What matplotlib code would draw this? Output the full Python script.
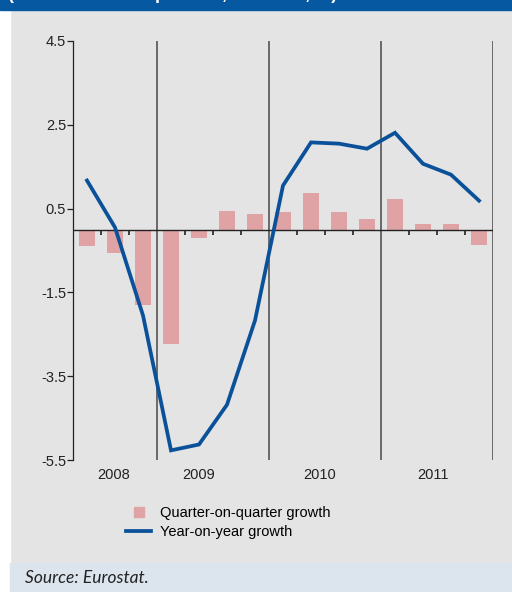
import matplotlib
matplotlib.use("Agg")
import matplotlib.pyplot as plt
import numpy as np
from matplotlib.patches import Rectangle
from matplotlib.lines import Line2D

plt.rcParams['font.family'] = ['Liberation Sans', 'DejaVu Sans']

# quarterly data, 2008Q2 .. 2011Q4
quarters = ['2008Q2', '2008Q3', '2008Q4',
            '2009Q1', '2009Q2', '2009Q3', '2009Q4',
            '2010Q1', '2010Q2', '2010Q3', '2010Q4',
            '2011Q1', '2011Q2', '2011Q3', '2011Q4']
qoq = [-0.40, -0.55, -1.79, -2.74, -0.21, 0.45, 0.36,
       0.41, 0.88, 0.41, 0.26, 0.74, 0.14, 0.14, -0.36]
yoy = [1.17, 0.05, -2.05, -5.27, -5.13, -4.18, -2.17,
       1.05, 2.08, 2.05, 1.93, 2.31, 1.57, 1.31, 0.69]

years = ['2008', '2009', '2010', '2011']
quarters_per_year = [3, 4, 4, 4]
year_label_pos = [0.95, 4.0, 8.3, 12.35]
y_ticks = [4.5, 2.5, 0.5, -1.5, -3.5, -5.5]

BAR_COL = '#e0a3a5'
LINE_COL = '#0a519a'
BG = '#e4e4e4'
FS = 10.5

W, H = 512, 592
fig = plt.figure(figsize=(W / 100, H / 100), dpi=100, facecolor=BG)

# frame decorations: white strip left, blue header band, source band
fig.patches.append(Rectangle((0, 0), 10 / W, 1, transform=fig.transFigure,
                             color='white', zorder=0))
fig.patches.append(Rectangle((0, 1 - 10 / H), 1, 10 / H, transform=fig.transFigure,
                             color='#0659a1', zorder=1))
fig.patches.append(Rectangle((10 / W, 0), 1, 29 / H, transform=fig.transFigure,
                             color='#dce4ee', zorder=1))
# header title sits above the cropped top edge, only its descenders show
fig.text(8 / W, 1 + 1 / H, '(Gross domestic product, volumes, %)', color='white',
         fontsize=13, fontweight='bold', va='baseline', ha='left', zorder=2)

ax = fig.add_axes([73 / W, 1 - 460 / H, 420 / W, 419 / H])
ax.set_facecolor('none')

x = np.arange(len(quarters))
ax.bar(x, qoq, width=0.55, color=BAR_COL, zorder=2)
ax.plot(x, yoy, color=LINE_COL, lw=2.7, solid_joinstyle='miter', zorder=4)

ax.axhline(0, color='#222222', lw=1.0, zorder=3)

# year separators
bounds = np.cumsum(quarters_per_year) - 0.5
for b in bounds:
    ax.axvline(b, color='#555555', lw=1.2, zorder=1)

# small quarter ticks on the zero line
qb = [i + 0.5 for i in range(len(quarters) - 1) if (i + 0.5) not in bounds]
ax.vlines(qb, -0.12, 0, color='#222222', lw=1.2, zorder=3)

ax.set_xlim(-0.5, len(quarters) - 0.5)
ax.set_ylim(-5.5, 4.5)
for s in ['top', 'right', 'bottom']:
    ax.spines[s].set_visible(False)
ax.spines['left'].set_color('#222222')
ax.spines['left'].set_linewidth(0.9)
ax.set_xticks([])
ax.set_yticks(y_ticks)
ax.set_yticklabels(['%.1f' % v for v in y_ticks])
ax.tick_params(axis='y', length=4, width=0.9, color='#222222',
               labelsize=FS, labelcolor='#222222', pad=1)

for pos, yr in zip(year_label_pos, years):
    ax.text(pos, -0.035, yr, transform=ax.get_xaxis_transform(),
            ha='center', va='center', fontsize=FS, color='#222222')

handles = [Line2D([], [], marker='s', ls='none', markersize=7,
                  color=BAR_COL),
           Line2D([], [], color=LINE_COL, lw=2.7)]
fig.legend(handles, ['Quarter-on-quarter growth', 'Year-on-year growth'],
           loc='upper left', bbox_to_anchor=(113 / W, 1 - 493 / H),
           frameon=False, fontsize=FS, handlelength=1.7, handletextpad=0.6,
           labelspacing=0.35, borderpad=0.4)

fig.text(25 / W, 1 - 578 / H, 'Source: Eurostat.', fontstyle='italic',
         family=['Lato', 'DejaVu Sans'], fontsize=12.5, va='center', ha='left',
         color='#222222')

fig.savefig('out.png', dpi=100, facecolor=fig.get_facecolor())
